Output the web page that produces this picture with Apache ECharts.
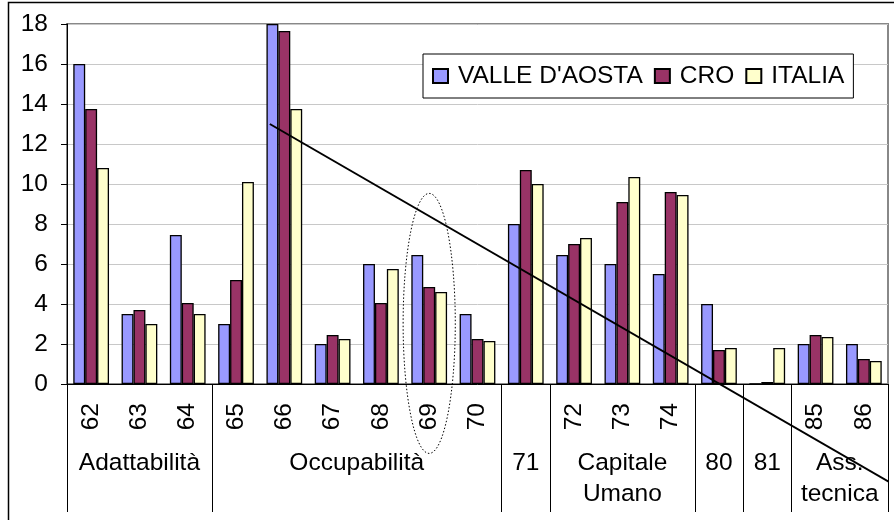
<!DOCTYPE html>
<html>
<head>
<meta charset="utf-8">
<script src="https://cdn.jsdelivr.net/npm/echarts@6/dist/echarts.min.js"></script>
<style>
  html, body { margin: 0; padding: 0; background: #fff; }
  #chart { width: 894px; height: 520px; }
</style>
</head>
<body>
<div id="chart"></div>
<script>
// categories (top row) and the groups they belong to (bottom row)
const codes = ['62', '63', '64', '65', '66', '67', '68', '69', '70', '71', '72', '73', '74', '80', '81', '85', '86'];
const codeLabels = ['62', '63', '64', '65', '66', '67', '68', '69', '70', '', '72', '73', '74', '', '', '85', '86'];
const groupNames = ['Adattabilità', 'Occupabilità', '71', 'Capitale\nUmano', '80', '81', 'Ass.\ntecnica'];
const groupBounds = [0, 3, 9, 10, 13, 14, 15, 17];

const seriesNames = ['VALLE D\'AOSTA', 'CRO', 'ITALIA'];
const vda = [16, 3.5, 7.45, 3.0, 18, 2.0, 6.0, 6.45, 3.5, 8.0, 6.45, 6.0, 5.5, 4.0, 0, 2.0, 2.0];
const cro = [13.75, 3.7, 4.05, 5.2, 17.65, 2.45, 4.05, 4.85, 2.25, 10.7, 7.0, 9.1, 9.6, 1.7, 0.1, 2.45, 1.25];
const italia = [10.8, 3.0, 3.5, 10.1, 13.75, 2.25, 5.75, 4.6, 2.15, 10.0, 7.3, 10.35, 9.45, 1.8, 1.8, 2.35, 1.15];

const yMin = 0, yMax = 18, yStep = 2;

// annotations, in category-edge units on x (0..17) and values on y
const trendLine = [[4.2, 13.0], [17.13, -5.05]];
const ellipse = [[7.5, 3.03, 0.54, 6.5]]; // cx, cy, rx, ry

const groupCenters = groupNames.map((_, i) => (groupBounds[i] + groupBounds[i + 1]) / 2);

const font = '"Liberation Sans", Arial, sans-serif';
const fs = 24.5;
const colors = ['#9999FF', '#993366', '#FFFFCC'];

const chart = echarts.init(document.getElementById('chart'));

const bars = [vda, cro, italia].map((d, i) => ({
    name: seriesNames[i],
    type: 'bar',
    barGap: '0%',
    barCategoryGap: '26%',
    itemStyle: { color: colors[i], borderColor: '#000', borderWidth: 1.3 },
    emphasis: { disabled: true },
    data: d
}));

chart.setOption({
    animation: false,
    textStyle: { fontFamily: font },
    grid: {
        left: 67, top: 24, right: 6, bottom: 136,
        show: true, borderColor: '#888', borderWidth: 2
    },
    legend: {
        data: seriesNames,
        left: 423, top: 54,
        orient: 'horizontal',
        padding: [9, 9],
        itemGap: 11,
        itemWidth: 15,
        itemHeight: 14,
        icon: 'rect',
        borderColor: '#000',
        borderWidth: 1,
        backgroundColor: '#fff',
        selectedMode: false,
        textStyle: { fontSize: fs, color: '#000', fontFamily: font, lineHeight: 26, padding: [0, 0, 0, 5] }
    },
    xAxis: [{
        type: 'category',
        data: codes,
        position: 'bottom',
        axisLine: { lineStyle: { color: '#000', width: 1 } },
        axisTick: { interval: 0, length: 45, lineStyle: { color: '#000' } },
        axisLabel: {
            interval: 0, rotate: 90, margin: 19, fontSize: fs, color: '#000', fontFamily: font,
            formatter: (v, i) => codeLabels[i]
        },
        splitLine: { show: false }
    }, {
        type: 'value',
        min: 0, max: 17,
        position: 'bottom',
        axisLine: { show: false },
        axisTick: { show: true, customValues: groupBounds, length: 128, lineStyle: { color: '#000' } },
        axisLabel: {
            customValues: groupCenters,
            margin: 64, fontSize: fs, lineHeight: 31, color: '#000', fontFamily: font,
            formatter: (v) => {
                const i = groupCenters.findIndex(c => Math.abs(c - v) < 1e-6);
                return i >= 0 ? groupNames[i] : '';
            }
        },
        splitLine: { show: false }
    }],
    yAxis: {
        type: 'value',
        min: yMin, max: yMax, interval: yStep,
        axisLine: { show: true, lineStyle: { color: '#000' } },
        axisTick: { show: true, length: 6, lineStyle: { color: '#000' } },
        axisLabel: { margin: 19, fontSize: fs, color: '#000', fontFamily: font },
        splitLine: { lineStyle: { color: '#c8c8c8', width: 1 } }
    },
    graphic: [{
        type: 'polyline',
        shape: { points: [[8.5, 520], [8.5, 2.5], [894, 2.5]] },
        style: { stroke: '#000', lineWidth: 1.5, fill: null },
        silent: true
    }],
    series: bars.concat([{
        name: 'trend',
        type: 'line',
        xAxisIndex: 1,
        data: trendLine,
        clip: false,
        symbol: 'none',
        silent: true,
        lineStyle: { color: '#000', width: 2 },
        z: 5
    }, {
        name: 'ellipse',
        type: 'custom',
        xAxisIndex: 1,
        data: ellipse,
        silent: true,
        z: 5,
        renderItem: (params, api) => {
            const c = api.coord([api.value(0), api.value(1)]);
            const s = api.size([api.value(2), api.value(3)]);
            return {
                type: 'ellipse',
                shape: { cx: c[0], cy: c[1], rx: s[0], ry: s[1] },
                style: { fill: null, stroke: '#000', lineWidth: 1, lineDash: [1.5, 2] }
            };
        }
    }])
});
</script>
</body>
</html>
